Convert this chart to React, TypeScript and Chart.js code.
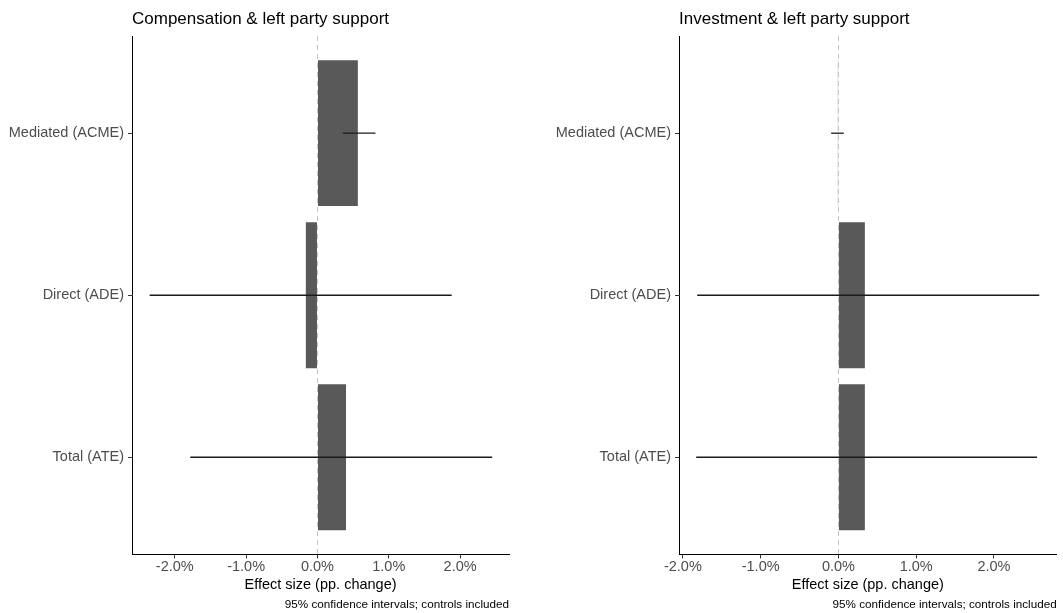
import React, { useEffect, useRef } from 'react';
import { Chart, registerables } from 'chart.js';

Chart.register(...registerables);

const FONT = "'Liberation Sans', Arial, Helvetica, sans-serif";

// ---- data ----
const categories = ['Mediated (ACME)', 'Direct (ADE)', 'Total (ATE)'];

const compEstimates = [0.566, -0.163, 0.4];
const compLower = [0.356, -2.353, -1.783];
const compUpper = [0.813, 1.882, 2.45];

const invEstimates = [-0.004, 0.34, 0.34];
const invLower = [-0.094, -1.816, -1.829];
const invUpper = [0.069, 2.583, 2.554];

const xTickValues = [-2, -1, 0, 1, 2];

const panelTitles = ['Compensation & left party support', 'Investment & left party support'];
const xAxisTitle = 'Effect size (pp. change)';
const captionText = '95% confidence intervals; controls included';

type PanelProps = {
  title: string;
  estimates: number[];
  lower: number[];
  upper: number[];
  xMin: number;
  xMax: number;
  width: number;
  left: number;
  yAxisWidth: number;
  padRight: number;
};

function Panel(props: PanelProps) {
  const { title, estimates, lower, upper, xMin, xMax, width, left, yAxisWidth, padRight } = props;
  const ref = useRef<HTMLCanvasElement>(null);

  useEffect(() => {
    if (!ref.current) return;
    const ciPlugin = {
      id: 'ciAndZero',
      afterDatasetsDraw(chart: any) {
        const { ctx, chartArea, scales } = chart;
        const x0 = Math.round(scales.x.getPixelForValue(0)) + 0.5;
        ctx.save();
        ctx.strokeStyle = '#c4c4c4';
        ctx.lineWidth = 1;
        ctx.setLineDash([5, 4]);
        ctx.beginPath();
        ctx.moveTo(x0, chartArea.top);
        ctx.lineTo(x0, chartArea.bottom);
        ctx.stroke();
        ctx.restore();

        ctx.save();
        ctx.strokeStyle = '#1a1a1a';
        ctx.lineWidth = 1.3;
        lower.forEach((lo, i) => {
          const y = scales.y.getPixelForValue(i + 1);
          ctx.beginPath();
          ctx.moveTo(scales.x.getPixelForValue(lo), y);
          ctx.lineTo(scales.x.getPixelForValue(upper[i]), y);
          ctx.stroke();
        });
        ctx.restore();
      },
    };

    const tickFont = { family: FONT, size: 14.5 };
    const gridOpts = {
      display: true,
      drawOnChartArea: false,
      drawTicks: true,
      tickLength: 4,
      color: '#333333',
      offset: false,
    };
    const borderOpts = { display: true, color: '#000000', width: 1 };

    const chart = new Chart(ref.current, {
      type: 'bar',
      data: {
        datasets: [
          {
            data: estimates.map((v, i) => ({ x: v, y: i + 1 })),
            backgroundColor: '#595959',
            borderWidth: 0,
            barPercentage: 0.9,
            categoryPercentage: 1,
          } as any,
        ],
      },
      options: {
        indexAxis: 'y',
        responsive: false,
        animation: false,
        devicePixelRatio: 1,
        layout: { padding: { left: 0, right: padRight, top: 0, bottom: 0 } },
        plugins: {
          legend: { display: false },
          tooltip: { enabled: false },
          title: {
            display: true,
            text: title,
            align: 'start',
            fullSize: false,
            color: '#000000',
            font: { family: FONT, size: 17, weight: 'normal' },
            padding: { top: 9.1, bottom: 6.5 },
          },
          subtitle: {
            display: true,
            text: captionText,
            position: 'bottom',
            align: 'end',
            fullSize: false,
            color: '#000000',
            font: { family: FONT, size: 11.7, weight: 'normal' },
            padding: { top: 4.7, bottom: 1.0 },
          },
        },
        scales: {
          x: {
            type: 'linear',
            min: xMin,
            max: xMax,
            afterBuildTicks: (axis: any) => {
              axis.ticks = xTickValues.map((v) => ({ value: v }));
            },
            ticks: {
              callback: (v: any) => Number(v).toFixed(1) + '%',
              color: '#4d4d4d',
              font: tickFont,
              padding: 0,
              maxRotation: 0,
              autoSkip: false,
            },
            grid: gridOpts,
            border: borderOpts,
            title: {
              display: true,
              text: xAxisTitle,
              color: '#000000',
              font: { family: FONT, size: 14.5 },
              padding: { top: 0, bottom: 0 },
            },
          },
          y: {
            type: 'linear',
            min: 0.4,
            max: 3.6,
            reverse: true,
            offset: false,
            afterBuildTicks: (axis: any) => {
              axis.ticks = categories.map((_, i) => ({ value: i + 1 }));
            },
            afterFit: (axis: any) => {
              axis.width = yAxisWidth;
            },
            ticks: {
              callback: (v: any) => categories[Math.round(Number(v)) - 1],
              color: '#4d4d4d',
              font: tickFont,
              padding: 4,
              autoSkip: false,
            },
            grid: gridOpts,
            border: borderOpts,
          },
        },
      } as any,
      plugins: [ciPlugin],
    });
    return () => chart.destroy();
  }, []);

  return (
    <canvas
      ref={ref}
      width={width}
      height={613}
      style={{ position: 'absolute', left, top: 0, width, height: 613, display: 'block' }}
    />
  );
}

export default function App() {
  return (
    <div style={{ position: 'absolute', left: 0, top: 0, width: 1063, height: 613, background: '#ffffff' }}>
      <Panel
        title={panelTitles[0]}
        estimates={compEstimates}
        lower={compLower}
        upper={compUpper}
        xMin={-2.6}
        xMax={2.685}
        width={530}
        left={0}
        yAxisWidth={132}
        padRight={21}
      />
      <Panel
        title={panelTitles[1]}
        estimates={invEstimates}
        lower={invLower}
        upper={invUpper}
        xMin={-2.05}
        xMax={2.807}
        width={533}
        left={530}
        yAxisWidth={149}
        padRight={6.3}
      />
    </div>
  );
}
